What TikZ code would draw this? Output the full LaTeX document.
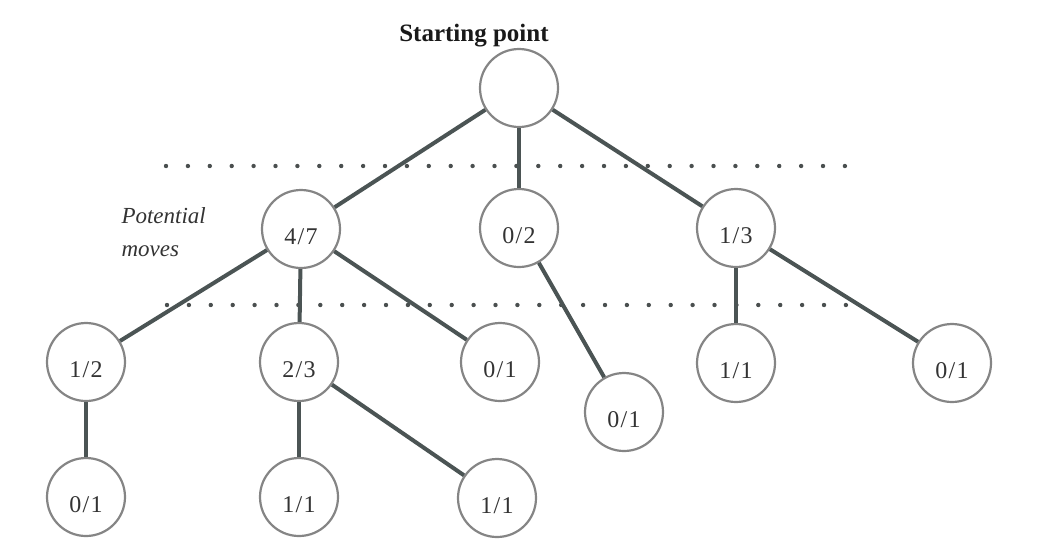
\documentclass[tikz,border=0pt]{standalone}
\usepackage{fontspec}
\setmainfont{Liberation Serif}
\definecolor{circgray}{HTML}{858585}
\definecolor{edgegray}{HTML}{4B5454}
\definecolor{dotgray}{HTML}{4A4F4F}
\definecolor{labelgray}{HTML}{333333}
% fraction label with a little air around the slash
\newcommand{\frc}[2]{#1\kern1.2pt/\kern1.2pt#2}
\begin{document}
\begin{tikzpicture}[x=1pt,y=-1pt,
  state/.style={circle,draw=circgray,line width=2.2pt,minimum size=78pt,inner sep=0pt,
    fill=white,text=labelgray,text height=31pt,text depth=0pt,
    font=\fontsize{24}{28}\selectfont},
  link/.style={draw=edgegray,line width=4pt},
  guide/.style={draw=dotgray,line width=4.4pt,line cap=round,dash pattern=on 0pt off 21.9pt}]
  \useasboundingbox (0,0) rectangle (1064,539);

  % dotted level separators
  \coordinate (g1a) at (166,166);
  \coordinate (g1b) at (850,166);
  \coordinate (g2a) at (167,305);
  \coordinate (g2b) at (850,305);
  \draw[guide] (g1a) -- (g1b);
  \draw[guide] (g2a) -- (g2b);

  % captions
  \node[font=\fontsize{25}{28}\selectfont\bfseries,text=black!90] (title) at (474,36) {Starting point};
  \node[font=\fontsize{23}{33}\selectfont\itshape,text=labelgray,align=left,anchor=west] (moves) at (118,232) {Potential\\moves};

  % tree nodes
  \node[state] (root) at (519,88) {};
  \node[state] (a) at (301,229) {\frc{4}{7}};
  \node[state] (b) at (519,228) {\frc{0}{2}};
  \node[state] (c) at (736,228) {\frc{1}{3}};
  \node[state] (a1) at (86,362) {\frc{1}{2}};
  \node[state] (a2) at (299,362) {\frc{2}{3}};
  \node[state] (a3) at (500,362) {\frc{0}{1}};
  \node[state] (b1) at (624,412) {\frc{0}{1}};
  \node[state] (c1) at (736,363) {\frc{1}{1}};
  \node[state] (c2) at (952,363) {\frc{0}{1}};
  \node[state] (a11) at (86,497) {\frc{0}{1}};
  \node[state] (a21) at (299,497) {\frc{1}{1}};
  \node[state] (a22) at (497,498) {\frc{1}{1}};

  % edges
  \draw[link] (root) -- (a);
  \draw[link] (root) -- (b);
  \draw[link] (root) -- (c);
  \draw[link] (a) -- (a1);
  \draw[link] (a) -- (a2);
  \draw[link] (a) -- (a3);
  \draw[link] (b) -- (b1);
  \draw[link] (c) -- (c1);
  \draw[link] (c) -- (c2);
  \draw[link] (a1) -- (a11);
  \draw[link] (a2) -- (a21);
  \draw[link] (a2) -- (a22);
\end{tikzpicture}
\end{document}
